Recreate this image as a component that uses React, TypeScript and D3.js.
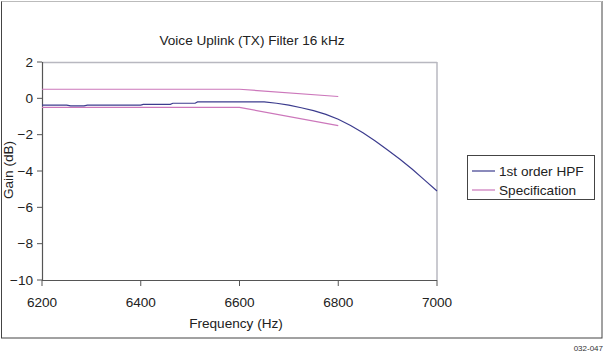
import React from 'react';
import * as d3 from 'd3';

// 1st order HPF response
const hpfFreq = [6200, 6250, 6258, 6285, 6292, 6400, 6405, 6460, 6465, 6510, 6515, 6650, 6675, 6700, 6725, 6750, 6775, 6800, 6825, 6850, 6875, 6900, 6925, 6950, 6975, 7000];
const hpfGain = [-0.37, -0.37, -0.41, -0.41, -0.37, -0.37, -0.33, -0.33, -0.27, -0.27, -0.2, -0.2, -0.27, -0.37, -0.52, -0.68, -0.88, -1.15, -1.5, -1.9, -2.35, -2.85, -3.35, -3.9, -4.5, -5.1];

// specification mask (upper and lower limits)
const specFreq = [6200, 6600, 6800];
const specUpper = [0.5, 0.5, 0.1];
const specLower = [-0.5, -0.5, -1.5];

const xTicks = [6200, 6400, 6600, 6800, 7000];
const yTicks = [2, 0, -2, -4, -6, -8, -10];
const legendLabels = ['1st order HPF', 'Specification'];

const width = 606;
const height = 353;
const hpfColor = '#3c3c8e';
const specColor = '#cc77bb';
const font = 'Liberation Sans, Arial, sans-serif';
const fs = 13.6;

const x = d3.scaleLinear().domain([6200, 7000]).range([42, 437]);
const y = d3.scaleLinear().domain([-10, 2]).range([280, 62]);

const line = d3
  .line<[number, number]>()
  .x(d => x(d[0]))
  .y(d => y(d[1]));

const hpfPath = line(hpfFreq.map((f, i) => [f, hpfGain[i]]));
const upperPath = line(specFreq.map((f, i) => [f, specUpper[i]]));
const lowerPath = line(specFreq.map((f, i) => [f, specLower[i]]));

const minus = (v: number) => (v < 0 ? '\u2212' + Math.abs(v) : String(v));

export default function App() {
  return (
    <svg
      width={width}
      height={height}
      style={{ position: 'absolute', left: 0, top: 0, background: '#fff' }}
      fontFamily={font}
    >
      {/* outer frame */}
      <rect x={1.5} y={1.5} width={600.5} height={336.5} fill="#fff" stroke="#444" strokeWidth={1} />
      <line x1={1.5} x2={602} y1={1.5} y2={1.5} stroke="#bbb" />

      <text x={252} y={40} dy="0.35em" textAnchor="middle" fontSize={fs} fill="#222">
        Voice Uplink (TX) Filter 16 kHz
      </text>

      {/* plot box: light top/right, dark axes */}
      <line x1={x(6200)} x2={x(7000)} y1={62.5} y2={62.5} stroke="#b8b8c0" strokeWidth={1.5} />
      <line x1={x(7000)} x2={x(7000)} y1={62} y2={280} stroke="#b8b8c0" strokeWidth={1.5} />
      <line x1={42.5} x2={42.5} y1={62} y2={280.5} stroke="#555" strokeWidth={1.2} />
      <line x1={42} x2={x(7000)} y1={280.5} y2={280.5} stroke="#555" strokeWidth={1.2} />

      {yTicks.map(t => (
        <g key={t}>
          <line x1={37} x2={42} y1={y(t)} y2={y(t)} stroke="#555" />
          <text x={33} y={y(t)} dy="0.35em" textAnchor="end" fontSize={fs} fill="#222">
            {minus(t)}
          </text>
        </g>
      ))}
      {xTicks.map(t => (
        <g key={t}>
          <line x1={x(t)} x2={x(t)} y1={280} y2={286} stroke="#555" />
          <text x={x(t)} y={302} dy="0.35em" textAnchor="middle" fontSize={fs} fill="#222">
            {t}
          </text>
        </g>
      ))}

      <text
        transform="translate(8,170) rotate(-90)"
        textAnchor="middle"
        dy="0.35em"
        fontSize={fs}
        fill="#222"
      >
        Gain (dB)
      </text>
      <text x={236} y={323} dy="0.35em" textAnchor="middle" fontSize={fs} fill="#222">
        Frequency (Hz)
      </text>

      <path d={upperPath || ''} fill="none" stroke={specColor} strokeWidth={1.2} />
      <path d={lowerPath || ''} fill="none" stroke={specColor} strokeWidth={1.2} />
      <path d={hpfPath || ''} fill="none" stroke={hpfColor} strokeWidth={1.2} />

      {/* legend */}
      <rect x={467.5} y={155.5} width={127} height={44} fill="#fff" stroke="#444" />
      {legendLabels.map((l, i) => (
        <g key={l}>
          <line
            x1={472}
            x2={495}
            y1={171 + i * 19}
            y2={171 + i * 19}
            stroke={i === 0 ? hpfColor : specColor}
            strokeWidth={1.2}
          />
          <text x={499} y={171 + i * 19} dy="0.35em" fontSize={fs} fill="#222">
            {l}
          </text>
        </g>
      ))}

      <text x={603} y={348} dy="0.35em" textAnchor="end" fontSize={8} fill="#333">
        032-047
      </text>
    </svg>
  );
}
